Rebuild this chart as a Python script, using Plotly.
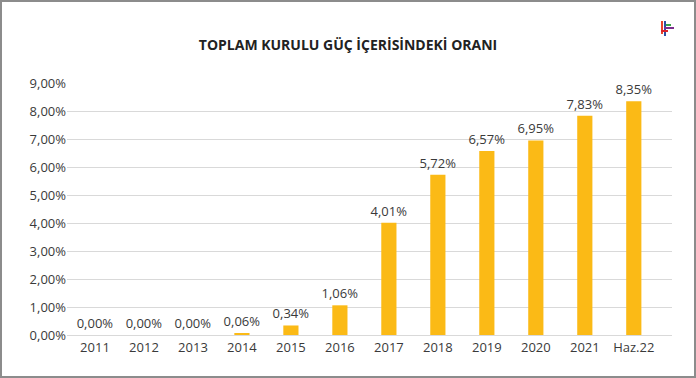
import plotly.graph_objects as go

categories = ["2011", "2012", "2013", "2014", "2015", "2016", "2017", "2018", "2019", "2020", "2021", "Haz.22"]
values = [0.00, 0.00, 0.00, 0.06, 0.34, 1.06, 4.01, 5.72, 6.57, 6.95, 7.83, 8.35]
y_ticks = [0, 1, 2, 3, 4, 5, 6, 7, 8, 9]
y_tick_labels = [f"{v:.2f}".replace(".", ",") + "%" for v in y_ticks]
value_labels = [f"{v:.2f}".replace(".", ",") + "%" for v in values]
title_text = "TOPLAM KURULU GÜÇ İÇERİSİNDEKİ ORANI"

W, H = 696, 378
L, R, T, B = 67, 24, 83, 43
PW, PH = W - L - R, H - T - B

def px(x):
    return (x - L) / PW

def py(y):
    return (H - B - y) / PH

FONT = "Open Sans"
TXT = "#3a3a3a"

fig = go.Figure(go.Bar(
    x=list(range(len(categories))),
    y=values,
    width=0.31,
    marker=dict(color="#FBBA16", line=dict(width=0)),
    text=value_labels,
    texttemplate="%{text}",
    textposition="outside",
    constraintext="none",
    textfont=dict(family=FONT, size=13, color=TXT),
    cliponaxis=False,
    hoverinfo="skip",
))

shapes = []
shapes.append(dict(type="rect", xref="paper", yref="paper",
                   x0=px(1), x1=px(695), y0=py(377), y1=py(1),
                   line=dict(color="#8c8c8c", width=2), fillcolor="rgba(0,0,0,0)", layer="above"))
logo = [
    (661, 21, 663, 34, "#e8452c"),
    (664, 21, 666, 36, "#2d4fa3"),
    (666, 24, 671, 26, "#3aa346"),
    (664, 27, 674, 29, "#7b2f8e"),
    (661, 30, 668, 32, "#d8232a"),
]
for x0, y0, x1, y1, c in logo:
    shapes.append(dict(type="rect", xref="paper", yref="paper",
                       x0=px(x0), x1=px(x1), y0=py(y1), y1=py(y0),
                       line=dict(width=0), fillcolor=c, layer="above"))

fig.update_layout(
    width=W, height=H,
    autosize=False,
    margin=dict(l=L, r=R, t=T, b=B, pad=0, autoexpand=False),
    paper_bgcolor="white", plot_bgcolor="white",
    showlegend=False,
    title=dict(text="<b>" + title_text + "</b>", x=0.5, xref="container", xanchor="center",
               y=1 - 45 / H, yref="container", yanchor="middle",
               font=dict(family=FONT, size=14, color="#222222")),
    font=dict(family=FONT, size=13, color=TXT),
    xaxis=dict(
        range=[-0.571, 11.78],
        tickmode="array", tickvals=list(range(len(categories))), ticktext=categories,
        showgrid=False, showline=False, zeroline=False, ticks="",
        automargin=False, ticklabelstandoff=3,
        tickfont=dict(family=FONT, size=13, color=TXT),
        fixedrange=True,
    ),
    yaxis=dict(
        range=[0, 9], tickmode="array", tickvals=y_ticks, ticktext=y_tick_labels,
        showgrid=True, gridcolor="#d9d9d9", gridwidth=1,
        zeroline=True, zerolinecolor="#d9d9d9", zerolinewidth=1,
        showline=False, ticks="",
        automargin=False,
        tickfont=dict(family=FONT, size=13, color=TXT),
        fixedrange=True,
    ),
    shapes=shapes,
)

fig.write_html("out.html", config={"displayModeBar": False},
               post_script="document.body.style.margin='0';document.body.style.overflow='hidden';")
